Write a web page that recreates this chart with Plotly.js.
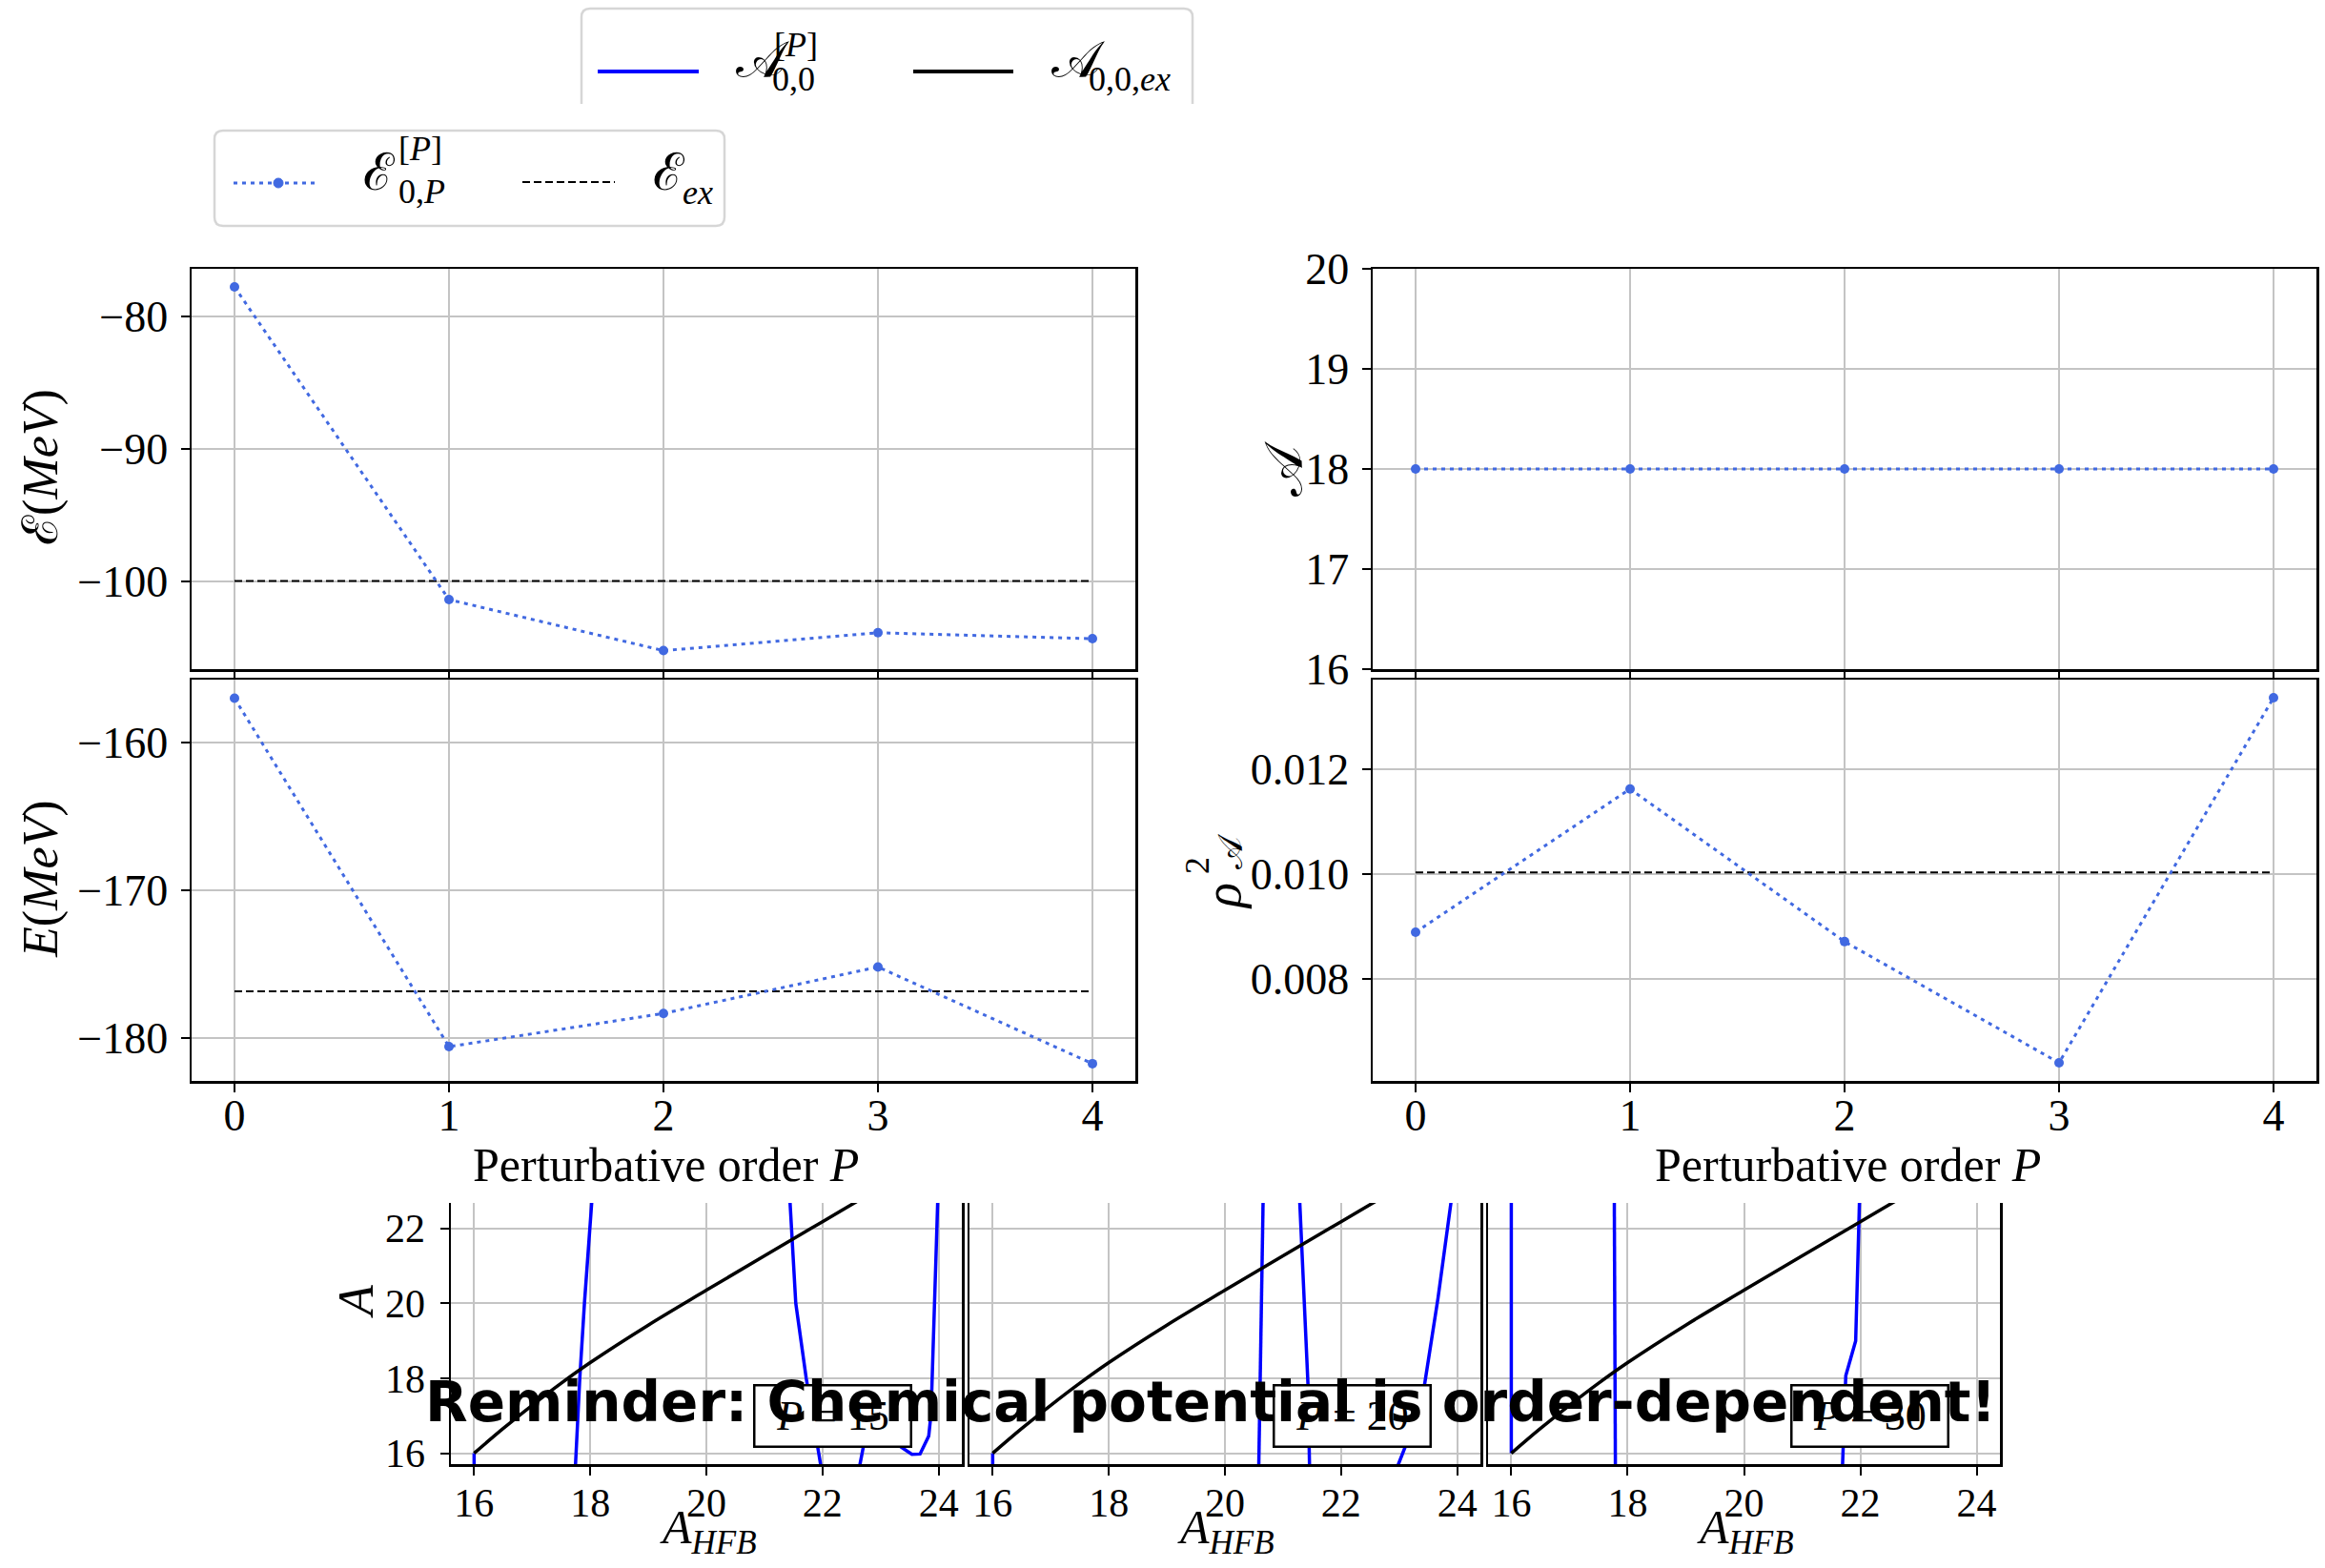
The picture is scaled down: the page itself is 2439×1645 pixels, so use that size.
<!DOCTYPE html>
<html>
<head>
<meta charset="utf-8">
<script src="https://cdn.plot.ly/plotly-3.0.1.min.js"></script>
<style>
  html, body { margin: 0; padding: 0; background: #ffffff; }
  #chart { width: 2439px; height: 1645px; }
</style>
</head>
<body>
<div id="chart"></div>
<script>
// ---------------- data ----------------
const P_orders = [0, 1, 2, 3, 4];
const E_cal = [-77.8, -101.4, -105.25, -103.9, -104.35];   // calligraphic E_{0,P}^{[P]} (MeV)
const E_cal_ex = -100.0;
const E_tot = [-157.0, -180.6, -178.35, -175.2, -181.75];  // E (MeV)
const E_tot_ex = -176.85;
const A_mean = [18, 18, 18, 18, 18];
const rho2 = [0.00889, 0.01162, 0.00871, 0.00640, 0.01336];
const rho2_ex = 0.01003;

// A_{0,0,ex} versus A_HFB
const A_HFB_ex = [16, 16.5, 17, 17.5, 18, 19, 20, 21, 22, 23];
const A_ex     = [16.0, 16.66, 17.28, 17.87, 18.42, 19.42, 20.35, 21.27, 22.18, 23.09];

// A_{0,0}^{[P]} versus A_HFB (branches between poles separated by null)
const P15_x = [16.0, 16.0, null, 17.74, 17.82, 17.9, 18.04, null, 21.43, 21.54, 21.72, 21.98, 22.0, null, 22.62, 22.74, 23.0, 23.32, 23.54, 23.68, 23.83, 23.87, 23.99];
const P15_y = [16.0, 15.0, null, 15.5, 18.0, 20.0, 23.0, null, 23.0, 20.0, 18.0, 15.7, 15.4, null, 15.5, 16.46, 16.8, 16.2, 15.97, 15.98, 16.46, 17.06, 23.0];
const P20_x = [16.0, 16.0, null, 20.58, 20.66, null, 21.28, 21.43, 21.46, null, 22.96, 23.10, 23.44, 23.67, 23.92];
const P20_y = [16.0, 15.0, null, 15.4, 23.0, null, 23.0, 17.85, 15.4, null, 15.6, 16.15, 17.85, 20.14, 23.0];
const P30_x = [16.0, 16.0, null, 17.77, 17.79, null, 21.69, 21.75, 21.92, 21.99];
const P30_y = [16.0, 23.0, null, 23.0, 15.4, null, 15.5, 18.07, 19.0, 23.0];

const panelLabels = ['15', '20', '30'];
const xTickLabelsSmall = ['16', '18', '20', '22', '24'];

// ---------------- helpers ----------------
const W = 2439, H = 1645;
const px = x => x / W;
const py = y => 1 - y / H;

const ROYAL = '#4169e1';
const BLUE = '#0000ff';
const GRID = '#c4c4c4';
const SERIF = 'Liberation Serif';
const tickFontBig = {family: SERIF, size: 46, color: '#000'};
const tickFontSmall = {family: SERIF, size: 42, color: '#000'};

function bigX(x0, x1, anchor, labels) {
  return {
    domain: [px(x0), px(x1)], anchor: anchor, range: [-0.2, 4.2],
    tick0: 0, dtick: 1, showticklabels: labels, ticks: 'outside', ticklen: 9, tickwidth: 2,
    tickcolor: '#000', ticklabelstandoff: -15,
    showline: true, mirror: true, linecolor: '#000', linewidth: 2.5,
    showgrid: true, gridcolor: GRID, gridwidth: 2, zeroline: false, tickfont: tickFontBig
  };
}
function bigY(y0, y1, anchor, range, dtick, fmt) {
  const o = {
    domain: [py(y1), py(y0)], anchor: anchor, range: range,
    dtick: dtick, ticks: 'outside', ticklen: 9, tickwidth: 2, tickcolor: '#000', ticklabelstandoff: 4,
    showline: true, mirror: true, linecolor: '#000', linewidth: 2.5,
    showgrid: true, gridcolor: GRID, gridwidth: 2, zeroline: false, tickfont: tickFontBig
  };
  if (fmt) o.tickformat = fmt;
  return o;
}
function smallX(x0, x1, anchor) {
  return {
    domain: [px(x0), px(x1)], anchor: anchor, range: [15.6, 24.4],
    tickvals: xTickLabelsSmall.map(Number), ticktext: xTickLabelsSmall,
    ticks: 'outside', ticklen: 9, tickwidth: 2, tickcolor: '#000', ticklabelstandoff: -7,
    showline: true, mirror: false, linecolor: '#000', linewidth: 2.5,
    showgrid: true, gridcolor: GRID, gridwidth: 2, zeroline: false, tickfont: tickFontSmall
  };
}
function smallY(anchor, labels) {
  return {
    domain: [py(1536), py(1262)], anchor: anchor, range: [15.71, 22.68],
    dtick: 2, showticklabels: labels, ticks: labels ? 'outside' : '', ticklen: 9, tickwidth: 2,
    tickcolor: '#000', ticklabelstandoff: 7,
    showline: true, mirror: true, linecolor: '#000', linewidth: 2.5,
    showgrid: true, gridcolor: GRID, gridwidth: 2, zeroline: false, tickfont: tickFontSmall
  };
}

function seriesTrace(y, xa, ya) {
  return {
    x: P_orders, y: y, xaxis: xa, yaxis: ya, type: 'scatter', mode: 'lines+markers',
    line: {color: ROYAL, width: 3, dash: '4px,5px'},
    marker: {color: ROYAL, size: 10}, hoverinfo: 'skip'
  };
}
function exactTrace(v, xa, ya) {
  return {
    x: [P_orders[0], P_orders[P_orders.length - 1]], y: [v, v], xaxis: xa, yaxis: ya,
    type: 'scatter', mode: 'lines', line: {color: '#000', width: 2, dash: '8px,4px'}, hoverinfo: 'skip'
  };
}
function blueTrace(x, y, xa, ya) {
  return {x: x, y: y, xaxis: xa, yaxis: ya, type: 'scatter', mode: 'lines', connectgaps: false,
          line: {color: BLUE, width: 3.5}, hoverinfo: 'skip'};
}
function blackTrace(xa, ya) {
  return {x: A_HFB_ex, y: A_ex, xaxis: xa, yaxis: ya, type: 'scatter', mode: 'lines',
          line: {color: '#000', width: 3.5, shape: 'spline', smoothing: 1}, hoverinfo: 'skip'};
}

const data = [
  exactTrace(E_cal_ex, 'x', 'y'), seriesTrace(E_cal, 'x', 'y'),
  exactTrace(E_tot_ex, 'x2', 'y2'), seriesTrace(E_tot, 'x2', 'y2'),
  seriesTrace(A_mean, 'x3', 'y3'),
  exactTrace(rho2_ex, 'x4', 'y4'), seriesTrace(rho2, 'x4', 'y4'),
  blueTrace(P15_x, P15_y, 'x5', 'y5'), blackTrace('x5', 'y5'),
  blueTrace(P20_x, P20_y, 'x6', 'y6'), blackTrace('x6', 'y6'),
  blueTrace(P30_x, P30_y, 'x7', 'y7'), blackTrace('x7', 'y7')
];

// ---------------- annotations ----------------
function ann(text, x, y, size, extra) {
  return Object.assign({
    text: text, x: px(x), y: py(y), xref: 'paper', yref: 'paper', showarrow: false,
    xanchor: 'center', yanchor: 'middle', font: {family: SERIF, size: size, color: '#000'}
  }, extra || {});
}

const annotations = [
  // axis titles
  ann('ℰ(<i>MeV</i>)', 43, 490, 52, {textangle: -90}),
  ann('<i>E</i>(<i>MeV</i>)', 43, 922, 52, {textangle: -90}),
  ann('𝒜', 1347, 492, 56, {textangle: -90}),
  ann('<i>ρ</i>', 1283, 940, 54, {textangle: -90}),
  ann('2', 1256, 908, 36, {textangle: -90}),
  ann('𝒜', 1291, 893, 36, {textangle: -90}),
  ann('Perturbative order <i>P</i>', 698, 1222, 50),
  ann('Perturbative order <i>P</i>', 1938, 1222, 50),
  ann('<i>A</i>', 373, 1366, 52, {textangle: -90}),
  ann('<i>A</i><sub><i>HFB</i></sub>', 743, 1606, 50),
  ann('<i>A</i><sub><i>HFB</i></sub>', 1286, 1606, 50),
  ann('<i>A</i><sub><i>HFB</i></sub>', 1831, 1606, 50),
  // legend 1 text
  ann('𝒜', 770, 63, 54, {xanchor: 'left'}),
  ann('[<i>P</i>]', 810, 47, 36, {xanchor: 'left'}),
  ann('0,0', 808, 83, 36, {xanchor: 'left'}),
  ann('𝒜', 1101, 63, 54, {xanchor: 'left'}),
  ann('0,0,<i>ex</i>', 1140, 83, 36, {xanchor: 'left'}),
  // legend 2 text
  ann('ℰ', 379, 181, 54, {xanchor: 'left'}),
  ann('[<i>P</i>]', 416, 156, 36, {xanchor: 'left'}),
  ann('0,<i>P</i>', 416, 201, 36, {xanchor: 'left'}),
  ann('ℰ', 683, 181, 54, {xanchor: 'left'}),
  ann('<i>ex</i>', 714, 202, 36, {xanchor: 'left'})
];
// P boxes in small panels
const boxCenters = [873, 1418, 1961];
panelLabels.forEach((p, i) => {
  annotations.push(ann('<i>P</i> = ' + p, boxCenters[i], 1485, 44, {
    bgcolor: '#ffffff', bordercolor: '#000', borderwidth: 2.5, borderpad: 4, width: 154, height: 54
  }));
});
// overlay reminder
annotations.push({
  text: '<b>Reminder: Chemical potential is order-dependent!</b>', x: px(1270), y: py(1471),
  xref: 'paper', yref: 'paper', showarrow: false, xanchor: 'center', yanchor: 'middle',
  font: {family: 'DejaVu Sans', size: 58, color: '#000'}
});

// ---------------- shapes (legend frames and handles) ----------------
function P2(x, y) { return px(x).toFixed(5) + ',' + py(y).toFixed(5); }
const r = 9;
const leg1Path = 'M' + P2(610, 109) + ' L' + P2(610, 9 + r) + ' Q' + P2(610, 9) + ' ' + P2(610 + r, 9) +
  ' L' + P2(1251 - r, 9) + ' Q' + P2(1251, 9) + ' ' + P2(1251, 9 + r) + ' L' + P2(1251, 109);
const lx0 = 225, lx1 = 760, ly0 = 137, ly1 = 237;
const leg2Path = 'M' + P2(lx0 + r, ly0) + ' L' + P2(lx1 - r, ly0) + ' Q' + P2(lx1, ly0) + ' ' + P2(lx1, ly0 + r) +
  ' L' + P2(lx1, ly1 - r) + ' Q' + P2(lx1, ly1) + ' ' + P2(lx1 - r, ly1) +
  ' L' + P2(lx0 + r, ly1) + ' Q' + P2(lx0, ly1) + ' ' + P2(lx0, ly1 - r) +
  ' L' + P2(lx0, ly0 + r) + ' Q' + P2(lx0, ly0) + ' ' + P2(lx0 + r, ly0) + ' Z';

const shapes = [
  {type: 'path', xref: 'paper', yref: 'paper', path: leg1Path, line: {color: '#d6d6d6', width: 2.5}},
  {type: 'path', xref: 'paper', yref: 'paper', path: leg2Path, line: {color: '#d6d6d6', width: 2.5}, fillcolor: '#ffffff'},
  {type: 'line', xref: 'paper', yref: 'paper', x0: px(627), x1: px(733), y0: py(75), y1: py(75), line: {color: BLUE, width: 4}},
  {type: 'line', xref: 'paper', yref: 'paper', x0: px(958), x1: px(1063), y0: py(75), y1: py(75), line: {color: '#000', width: 4}},
  {type: 'line', xref: 'paper', yref: 'paper', x0: px(245), x1: px(334), y0: py(192), y1: py(192), line: {color: ROYAL, width: 3, dash: '4px,5px'}},
  {type: 'circle', xref: 'paper', yref: 'paper', x0: px(287), x1: px(297), y0: py(187), y1: py(197), fillcolor: ROYAL, line: {color: ROYAL, width: 1}},
  {type: 'line', xref: 'paper', yref: 'paper', x0: px(548), x1: px(645), y0: py(191), y1: py(191), line: {color: '#000', width: 2, dash: '8px,4px'}}
];

const layout = {
  width: W, height: H, margin: {l: 0, r: 0, t: 0, b: 0, pad: 0},
  paper_bgcolor: '#ffffff', plot_bgcolor: '#ffffff', showlegend: false,
  font: {family: SERIF, color: '#000'},
  xaxis: bigX(201, 1191, 'y', false),
  yaxis: bigY(282, 702, 'x', [-106.65, -76.43], 10),
  xaxis2: bigX(201, 1191, 'y2', true),
  yaxis2: bigY(713, 1134, 'x2', [-182.92, -155.74], 10),
  xaxis3: bigX(1440, 2430, 'y3', false),
  yaxis3: bigY(282, 702, 'x3', [16, 20], 1),
  xaxis4: bigX(1440, 2430, 'y4', true),
  yaxis4: bigY(713, 1134, 'x4', [0.006054, 0.013706], 0.002, '.3f'),
  xaxis5: smallX(473, 1009, 'y5'),
  yaxis5: smallY('x5', true),
  xaxis6: smallX(1017, 1553, 'y6'),
  yaxis6: smallY('x6', false),
  xaxis7: smallX(1561, 2098, 'y7'),
  yaxis7: smallY('x7', false),
  annotations: annotations,
  shapes: shapes
};

Plotly.newPlot('chart', data, layout, {staticPlot: true, displayModeBar: false});
</script>
</body>
</html>
